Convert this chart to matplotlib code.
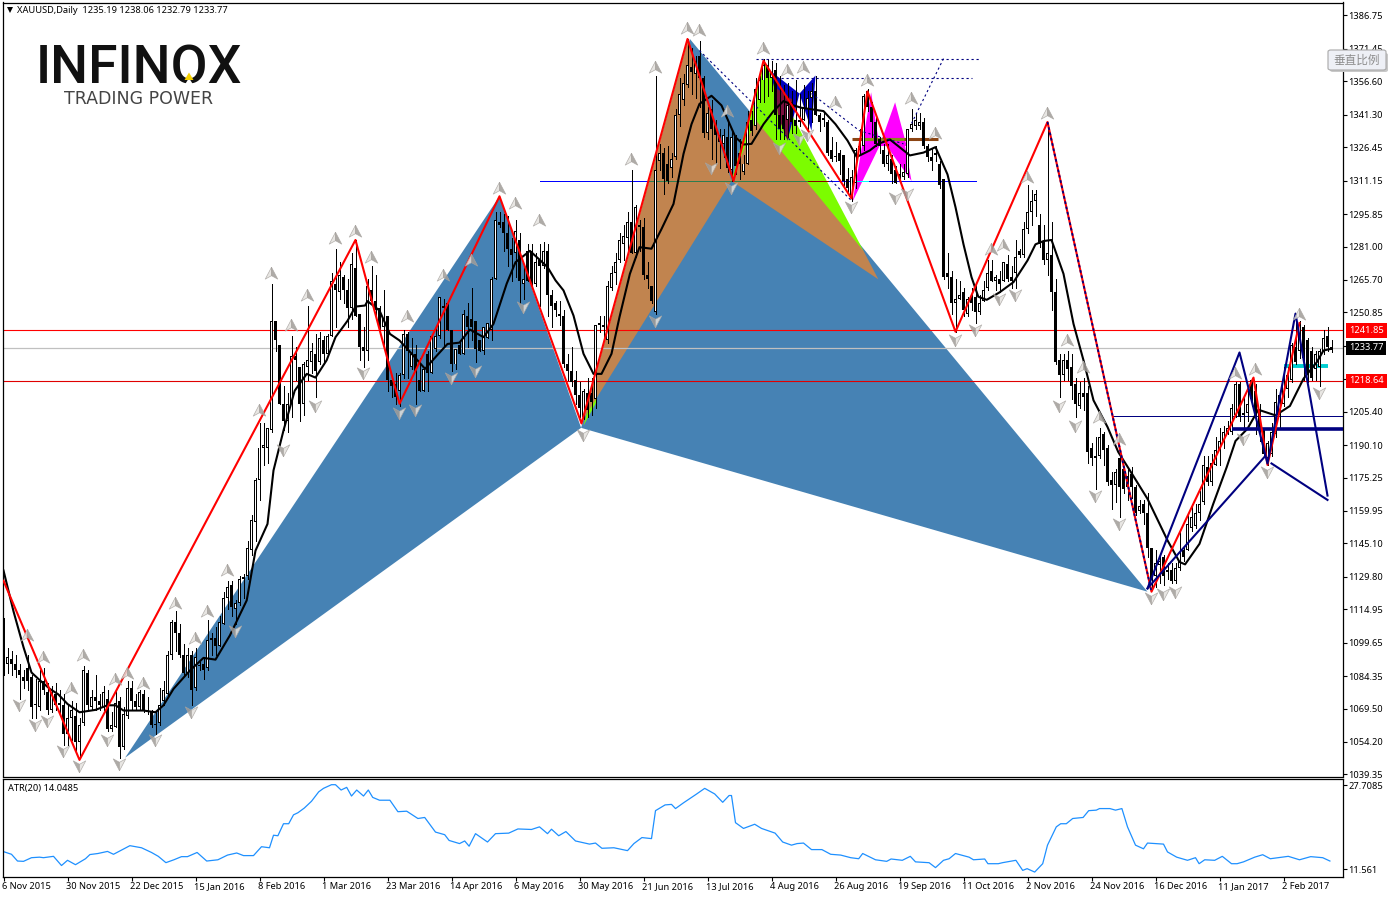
import matplotlib
matplotlib.use('Agg')
import matplotlib.pyplot as plt
from matplotlib.path import Path
from matplotlib.patches import FancyBboxPatch, Polygon
from matplotlib.transforms import ScaledTranslation
import numpy as np

plt.rcParams['font.family'] = ['Noto Sans', 'DejaVu Sans']

# daily candles, oldest first
opens = [
    1104,1090,1092,1090,1087,1084,1088,1084,1071,1070, 1082,1077,1069,1076,1072,1071,1058,1065,1066,1054,
    1063,1086,1070,1075,1073,1070,1074,1060,1061,1073, 1052,1066,1079,1073,1070,1076,1069,1068,1062,1063,
    1073,1076,1094,1109,1104,1094,1086,1094,1079,1089, 1090,1088,1101,1102,1098,1108,1120,1126,1115,1118,
    1129,1130,1142,1155,1174,1189,1189,1197,1247,1236, 1209,1201,1209,1231,1226,1209,1226,1228,1232,1228,
    1238,1232,1240,1264,1260,1267,1261,1253,1271,1250, 1235,1233,1261,1256,1253,1244,1249,1220,1218,1215,
    1222,1241,1226,1232,1220,1215,1232,1223,1234,1240, 1254,1255,1243,1227,1236,1232,1249,1248,1247,1238,
    1233,1239,1243,1266,1292,1292,1287,1280,1278,1284, 1264,1279,1279,1264,1275,1272,1279,1259,1255,1250,
    1249,1227,1224,1220,1213,1203,1214,1214,1211,1245, 1245,1238,1262,1269,1275,1282,1285,1292,1278,1290,
    1290,1268,1263,1251,1320,1324,1319,1317,1322,1341, 1348,1355,1363,1360,1368,1358,1333,1344,1337,1332,
    1328,1331,1316,1331,1324,1315,1319,1339,1336,1348, 1357,1364,1358,1362,1341,1341,1339,1347,1339,1339,
    1339,1344,1349,1352,1341,1340,1338,1325,1322,1324, 1323,1312,1304,1310,1325,1327,1352,1345,1338,1330,
    1325,1319,1321,1316,1314,1313,1314,1335,1336,1336, 1338,1327,1322,1324,1319,1312,1269,1267,1255,1257,
    1260,1250,1258,1258,1251,1256,1262,1270,1265,1266, 1265,1273,1267,1269,1279,1277,1289,1297,1302,1291,
    1283,1275,1277,1260,1229,1222,1229,1226,1218,1208, 1214,1214,1189,1185,1185,1195,1189,1174,1172,1184,
    1179,1176,1177,1171,1160,1163,1159,1143,1130,1135, 1139,1133,1133,1128,1134,1142,1142,1152,1153,1159,
    1164,1180,1173,1181,1188,1192,1195,1196,1204,1218, 1204,1205,1220,1215,1206,1197,1184,1186,1195,1204,
    1209,1216,1220,1235,1233,1244,1238,1233,1225,1226, 1233,1240,1235.19,
]
closes = [
    1088,1093,1090,1087,1085,1082,1082,1070,1071,1082, 1078,1069,1077,1071,1071,1058,1065,1069,1054,1062,
    1087,1071,1075,1073,1071,1077,1060,1062,1072,1052, 1067,1079,1073,1070,1077,1069,1068,1062,1062,1071,
    1078,1094,1109,1104,1094,1086,1094,1078,1093,1089, 1087,1101,1101,1098,1109,1120,1125,1116,1118,1129,
    1129,1143,1156,1174,1189,1190,1198,1247,1238,1209, 1201,1209,1231,1229,1209,1227,1229,1233,1224,1239,
    1232,1240,1265,1261,1268,1261,1253,1273,1249,1235, 1233,1263,1256,1252,1244,1248,1220,1217,1212,1222,
    1241,1233,1232,1224,1215,1225,1223,1240,1240,1258, 1253,1243,1227,1234,1232,1250,1244,1244,1234,1233,
    1244,1246,1266,1293,1291,1287,1280,1277,1288,1265, 1266,1265,1264,1274,1272,1279,1259,1254,1252,1249,
    1227,1224,1219,1213,1207,1215,1206,1210,1245,1246, 1244,1263,1269,1274,1284,1286,1292,1278,1299,1291,
    1268,1266,1256,1316,1324,1312,1311,1321,1341,1351, 1356,1364,1361,1366,1358,1333,1342,1335,1332,1329,
    1332,1317,1331,1318,1319,1319,1338,1334,1353,1357, 1364,1358,1361,1341,1335,1335,1346,1338,1336,1338,
    1345,1349,1352,1341,1338,1339,1324,1321,1322,1320, 1311,1308,1313,1325,1327,1350,1345,1338,1328,1327,
    1319,1323,1314,1310,1313,1315,1335,1337,1339,1338, 1327,1322,1320,1323,1309,1267,1267,1255,1257,1259,
    1252,1257,1255,1251,1255,1261,1269,1265,1267,1264, 1274,1266,1265,1276,1277,1289,1297,1302,1305,1282,
    1275,1278,1260,1228,1222,1229,1225,1217,1209,1214, 1212,1187,1184,1184,1194,1188,1173,1172,1178,1171,
    1170,1171,1171,1159,1162,1159,1143,1129,1136,1137, 1130,1132,1128,1134,1137,1139,1154,1157,1159,1163,
    1181,1173,1182,1188,1192,1196,1198,1207,1218,1203, 1205,1209,1211,1205,1197,1186,1191,1196,1210,1213,
    1220,1222,1236,1228,1245,1230,1222,1221,1232,1233, 1239,1235,1233.77,
]
highs = [
    1111,1097,1096,1094,1090,1087,1094,1085,1083,1087, 1088,1081,1080,1081,1078,1076,1071,1073,1072,1065,
    1089,1087,1078,1085,1076,1080,1078,1068,1078,1075, 1070,1082,1082,1076,1078,1078,1075,1069,1068,1079,
    1082,1096,1110,1114,1108,1099,1097,1096,1097,1091, 1093,1110,1104,1107,1112,1123,1128,1128,1119,1130,
    1131,1146,1158,1175,1200,1200,1198,1264,1247,1236, 1217,1214,1240,1235,1226,1228,1254,1237,1241,1242,
    1240,1241,1269,1280,1274,1268,1266,1278,1284,1250, 1244,1266,1272,1268,1254,1261,1249,1221,1223,1223,
    1243,1242,1239,1236,1230,1226,1233,1241,1244,1258, 1257,1255,1243,1234,1238,1252,1255,1262,1247,1238,
    1244,1246,1267,1297,1297,1296,1295,1285,1293,1287, 1273,1282,1282,1278,1282,1283,1282,1261,1256,1256,
    1252,1232,1235,1224,1219,1216,1221,1221,1245,1249, 1249,1265,1272,1278,1287,1291,1297,1316,1300,1293,
    1294,1274,1263,1359,1328,1326,1327,1324,1344,1358, 1360,1376,1372,1368,1375,1359,1345,1348,1339,1335,
    1335,1339,1334,1332,1330,1323,1343,1343,1358,1359, 1367,1367,1366,1365,1359,1355,1356,1352,1357,1351,
    1355,1352,1356,1359,1342,1342,1339,1331,1329,1325, 1323,1317,1316,1326,1335,1351,1353,1347,1340,1331,
    1328,1328,1323,1318,1319,1319,1335,1344,1342,1342, 1340,1328,1326,1327,1320,1312,1278,1270,1266,1265,
    1262,1258,1262,1264,1259,1265,1275,1275,1268,1270, 1274,1277,1272,1284,1280,1292,1309,1307,1307,1296,
    1291,1337,1292,1266,1232,1232,1233,1232,1221,1219, 1221,1217,1191,1194,1198,1196,1190,1178,1179,1185,
    1180,1180,1180,1172,1165,1165,1168,1143,1142,1140, 1140,1136,1136,1136,1151,1143,1159,1163,1163,1169,
    1185,1185,1186,1194,1198,1199,1201,1209,1219,1219, 1212,1215,1221,1218,1209,1198,1192,1200,1216,1214,
    1226,1226,1237,1250,1247,1245,1239,1235,1233,1234, 1243,1244,1238.06,
]
lows = [
    1085,1086,1085,1084,1074,1079,1078,1065,1065,1069, 1076,1067,1068,1069,1067,1053,1053,1055,1050,1047,
    1062,1069,1069,1069,1069,1069,1059,1059,1061,1047, 1051,1065,1069,1069,1069,1068,1067,1061,1058,1062,
    1071,1075,1092,1096,1093,1085,1084,1071,1078,1087, 1083,1087,1094,1094,1098,1108,1115,1112,1108,1117,
    1120,1129,1140,1146,1165,1181,1182,1196,1233,1209, 1197,1196,1203,1220,1201,1204,1220,1223,1212,1227,
    1227,1231,1240,1244,1257,1255,1244,1248,1249,1229, 1226,1229,1255,1249,1243,1235,1215,1212,1209,1208,
    1221,1221,1225,1209,1215,1215,1215,1223,1233,1239, 1235,1243,1224,1225,1232,1232,1235,1238,1228,1233,
    1232,1239,1238,1266,1290,1279,1272,1265,1267,1255, 1257,1265,1263,1263,1254,1271,1249,1244,1249,1245,
    1226,1220,1217,1209,1203,1202,1203,1204,1207,1242, 1238,1237,1261,1264,1274,1275,1279,1278,1276,1279,
    1266,1262,1255,1250,1316,1305,1310,1313,1321,1336, 1346,1354,1351,1349,1345,1331,1330,1321,1319,1317,
    1322,1315,1311,1314,1312,1314,1319,1332,1335,1347, 1347,1350,1352,1330,1330,1330,1331,1333,1333,1336,
    1339,1334,1338,1341,1334,1336,1323,1320,1320,1314, 1309,1305,1302,1308,1323,1325,1343,1331,1327,1324,
    1318,1316,1310,1310,1311,1312,1313,1334,1335,1335, 1326,1320,1316,1320,1308,1266,1262,1250,1242,1257,
    1249,1249,1252,1246,1250,1256,1261,1265,1261,1260, 1265,1265,1262,1262,1276,1276,1287,1291,1295,1281,
    1273,1268,1252,1227,1212,1220,1220,1211,1203,1207, 1206,1182,1181,1170,1184,1181,1172,1161,1164,1157,
    1168,1165,1166,1158,1159,1154,1139,1125,1125,1127, 1126,1129,1127,1127,1133,1137,1142,1151,1152,1156,
    1163,1172,1172,1181,1181,1189,1195,1195,1203,1201, 1198,1201,1208,1195,1192,1185,1181,1185,1194,1198,
    1208,1212,1219,1227,1230,1220,1219,1220,1220,1217, 1232,1233,1232.79,
]

# black moving average, read at bar positions
ma_bars = [0,2.5,5,7,9,11.6,13.7,16,19,23,26,28,30,35,38,40,42.5,46.6,50,53,56.6,60.8,63,66,67.5,70,72.8,75.8,78,80.8,
           83,86,88,90.4,91,94,96.6,99,101.7,105.4,108.3,111,114,116.6,120,122.5,125.8,128,131.6,134,136,138,140,142.5,145,147.5,149.5,152,154,156.6,
           159,162,164.5,167.5,170,172,174,177,179.5,183,185,187,190,192.5,195,197.5,199.5,205,208,211,213.3,216.6,218.7,221.6,224,226.6,230,233,
           236,238,240,242,243.7,245.8,249,252.5,256,258,260,262,265,267.5,270,272.5,276,278.7,281.6,286,291,294,295.4,299,302.4,305.8,308,311,313.7,318,321.6,325,328.3,330,332]
ma_vals = [1132.7,1114,1097.6,1086,1082.6,1078.5,1076,1071.6,1067.8,1068.9,1071,1071,1068.6,1068.6,1067.8,1071,1078.5,1086.9,1092.7,1091.9,1103,1119,1141.8,1154,1178.5,1196.8,1215,1222.7,1221,1229,
           1239.5,1247,1253.5,1254,1256,1251.7,1241,1238,1232.6,1225,1231,1236.4,1237,1243,1239.5,1245.6,1264,1273.8,1279,1275,1271.6,1265.5,1260.9,1249.4,1231.9,1222.7,1222.7,1231.9,1248.7,1268.5,
           1280.7,1280,1289,1300.5,1323.4,1337,1346.3,1350,1345.6,1331,1327.7,1328,1337,1343,1347.6,1345.6,1344.5,1343,1337,1329.5,1322,1325,1328,1330,1326.5,1322.7,1324,1326.5,
           1314,1299,1282,1267,1258,1256.6,1260,1264.7,1274.6,1282,1283.5,1284,1268.5,1245.6,1228.9,1210.6,1198.4,1186.9,1178.5,1165.5,1146.5,1136.6,1135.5,1144.9,1163,1180,1192,1197.6,1206.3,1203.7,1208,1220.5,1228,1233.4,1234.2]

# red zigzag
zz_bars = [0,19,88,99,124,144.5,171,182.5,190,212,216,238,261,287,312.5,316,324]
zz_vals = [1128,1046,1284,1209,1304,1200,1376,1311,1366,1303,1352,1242,1338,1123,1221,1181,1246]

# fractal arrows
up_bars = [6,10,20,17,28,31,35,43,51,48,56,64,67,72,76,83,88,92,101,110,117,124,128,134,157,163,171,174,181,190,196,200,208,216,227,233,247,250,256,261,266,270,274,279,308,313,324]
up_vals = [1103,1093,1094,1079,1083,1086,1081,1118,1114,1102,1133,1206,1269,1245,1259,1285,1288,1276,1249,1268,1275,1308,1301,1293,1321,1363,1381,1380,1343,1372,1362,1363,1347,1357,1349,1333,1280,1281.5,1313,1342,1238,1226,1203,1193,1223,1225,1250]
down_bars = [4,8,11,15,19,26,29,38,47,58,70,78,90,99,103,112,118,130,145,163,177,182,194,199,201,212,223,226,238,243,249,253,264,268,273,279,287,290,293,310,316,329]
down_vals = [1071,1062,1064,1050,1043,1055,1044,1055,1068,1105,1188,1208,1223,1205,1206,1221,1224,1253.5,1194.5,1247,1317,1308,1326,1330,1332,1299,1303,1305,1238,1243,1257,1259,1208,1199,1167,1154,1120,1122,1123,1193,1178,1214]

# filled harmonic patterns as (bars, prices, colour)
blue_fill = '#4682B4'
brown_fill = '#C1844F'
green_fill = '#7CFC00'
pattern_fills = [
    ([30.4,124,144.4], [1047,1304,1198], blue_fill),
    ([144.4,171.6,286], [1198,1376,1123], blue_fill),
    ([145,161,148], [1199,1307,1209], green_fill),
    ([145,171,182], [1202,1375,1311], brown_fill),
    ([182,190,215], [1311,1366,1279], green_fill),
    ([182,188,215,218.7], [1311,1339,1279,1266], brown_fill),
    ([191.6,199,196], [1361.6,1351,1329.5], '#0000C0'),
    ([199,203,202], [1351,1359.3,1334], '#0000C0'),
    ([193,197.4,196,193.6], [1353.8,1348,1329.5,1341], '#7B0F3D'),
    ([212.3,216.9,219], [1301.7,1351.6,1327], '#FF00FF'),
    ([219,222.9,225.8], [1327,1347,1327], '#FF00FF'),
    ([220.8,225.4,227], [1327,1327,1311], '#FF00FF'),
]

# navy pattern outline
navy_bars = [286,309,316,323,331]
navy_vals = [1124.5,1232.5,1181.7,1250.3,1167]
navy_base_bars = [286,315.4]
navy_base_vals = [1124.5,1185]
navy_tail_bars = [317,331]
navy_tail_vals = [1181.7,1165]

# dashed navy trend lines
dash_lines = [
    ([188,244], [1367,1367]),
    ([193,242], [1358.3,1358.3]),
    ([235,227], [1367,1337.3]),
    ([174,212], [1370.7,1302]),
    ([202,214,225], [1351,1334,1328]),
]

# levels sit a touch above their printed price on the terminal's scale
level_prices = [1241.85, 1233.77, 1218.64]
level_heights = [1242.6, 1234.6, 1219.5]
level_colors = ['#FF0000', '#000000', '#FF0000']

y_ticks = [1386.75,1371.45,1356.60,1341.30,1326.45,1311.15,1295.85,1281.00,1265.70,1250.85,1235.55,1220.25,
           1205.40,1190.10,1175.25,1159.95,1145.10,1129.80,1114.95,1099.65,1084.35,1069.50,1054.20,1039.35]
date_ticks = ['6 Nov 2015','30 Nov 2015','22 Dec 2015','15 Jan 2016','8 Feb 2016','1 Mar 2016','23 Mar 2016',
              '14 Apr 2016','6 May 2016','30 May 2016','21 Jun 2016','13 Jul 2016','4 Aug 2016','26 Aug 2016',
              '19 Sep 2016','11 Oct 2016','2 Nov 2016','24 Nov 2016','16 Dec 2016','11 Jan 2017','2 Feb 2017']

# ATR(20) pane
atr_bars = [0,2,3.5,5,7,9,10,12.5,14.5,16,18,20.5,21.6,23.6,26,27.5,31.6,34.5,37,38.7,40.6,42.6,44.5,46,48.4,50.8,53.6,56,58.3,60,62.5,64.5,66.5,67.5,68.6,70,71.3,72.5,73.6,75.2,77,78.8,80,82,83,84.4,85.8,87,88.3,90,91.2,92.3,94,96.6,98.6,100.8,103.6,105.3,108,110.3,111.4,114,115.3,116.4,118,121,123,126.3,128.6,132,134,136,137,138.8,140.6,143,146.5,148,149.6,152.6,156,157.6,159.6,162,163,165.4,167,168,170,
            173.3,175.3,177.8,179.8,181.4,182,183,185,187.8,189.5,192.9,194.8,197,198.4,200,202,204.6,206.8,209.3,211.8,213.8,214.8,218,220.8,221.9,224.7,226.7,228,231.4,233,235,236.4,238,241.4,242.5,245.3,246.1,248.7,249.8,253.1,254.8,255.9,257.8,259.8,261,263.2,264.3,265.7,267.3,269.9,271.3,273.2,274,276.6,278,279.6,281,283,285,286,290,291,293.3,296,298,298.9,300.3,302.8,304.7,307,308.4,310,312.8,314.8,316.7,321.2,324,326.8,329.8,331.6]
atr_vals = [14.96,14.45,13.16,13.1,13.8,13.9,13.8,14.06,12.3,13.3,12.46,13.6,14.4,14.6,15,14.45,16.1,15.7,14.8,14.06,12.85,13.4,14,14,14.8,13.16,13.4,14.3,14.7,14.2,14.2,15.9,15.7,18.1,18,20.3,20.3,22,22.4,23.3,24.6,26.4,27.07,27.77,27.77,26.75,27.26,25.6,26.75,25.6,26.75,25.34,24.8,24.8,22.6,22.7,21.3,21.5,18.7,18.2,17.1,16.5,17,16,18.4,16.8,18.4,18.5,19.3,19.2,19.7,18.4,19.25,18,18.8,17,16.4,16.6,15.6,15.7,15.15,16.5,17.65,17.45,22.8,23.9,24,23.2,24.3,
            26,27.07,26,24.4,25.7,25.7,20.5,19.4,20.2,19.4,18.5,16.8,16.2,16.5,16.6,15.35,15.35,14.45,14.3,13.8,13.6,14.6,13.4,13.1,13.55,13.3,14.06,13,12.84,11.9,13.3,13.6,14.6,13.9,13.4,13.55,12.65,12.65,12.85,13.3,11.37,11.7,11.05,12.65,16.2,19.7,20.3,20.3,21.3,21.5,22.8,22.9,23.2,23.2,22.9,23.2,19.7,16.2,15.5,16.6,16.4,14.9,13.9,13.3,13.8,12.65,13.4,13.3,14.06,12.65,12.65,13,13.9,14.37,13.6,14.06,13.4,14,13.8,13.16]

W, H = 1388, 897
LABEL_SIZE = 6.7
fig = plt.figure(figsize=(W / 100, H / 100), dpi=100, facecolor='white')
ax = fig.add_axes([2.5 / W, 1 - 776.5 / H, 1340.5 / W, 774 / H])
ax2 = fig.add_axes([2.5 / W, 1 - 876.5 / H, 1340.5 / W, 97.5 / H])

for a in (ax, ax2):
    a.set_xlim(-0.25, 334.875)
    for s in a.spines.values():
        s.set_linewidth(0.9)
ax.set_ylim(1038.4, 1392.7)
ax2.set_ylim(10.2, 28.86)

# pattern fills go under the candles
for xs, ys, col in pattern_fills:
    ax.fill(xs, ys, facecolor=col, edgecolor='none', zorder=1)

bars = np.arange(len(closes))
o, c, h, l = map(np.array, (opens, closes, highs, lows))
ax.vlines(bars, l, h, color='black', lw=0.72, zorder=3, antialiased=False)
up = c >= o
body_low = np.minimum(o, c)
body_size = np.maximum(np.abs(c - o), 0.6)
# 3px black body, white candles get a 1px hollow centre
ax.bar(bars, body_size, bottom=body_low, width=0.75, color='black', linewidth=0, zorder=3.2, antialiased=False)
ax.bar(bars[up], np.maximum(body_size[up] - 0.9, 0), bottom=body_low[up] + 0.45, width=0.25,
       color='white', linewidth=0, zorder=3.3, antialiased=False)

ax.plot(ma_bars, ma_vals, color='black', lw=1.5, zorder=4)

# horizontal levels
ax.axhline(level_heights[0], color='#FF0000', lw=0.8, zorder=2.5)
ax.axhline(level_heights[2], color='#E00000', lw=0.8, zorder=2.5)
ax.axhline(level_heights[1], color='#C0C0C0', lw=0.9, zorder=2.5)
ax.hlines(1311.2, 134, 243, color='#0000FF', lw=0.7, zorder=2.5, antialiased=False)
ax.hlines(1311.2, 161, 201, color='#2E7D4F', lw=0.7, zorder=2.6, antialiased=False)
ax.hlines(1311.2, 201, 206, color='#8B0000', lw=0.7, zorder=2.6, antialiased=False)
ax.hlines(1311.2, 213, 216, color='#00FFFF', lw=0.7, zorder=2.6, antialiased=False)
ax.hlines(1203.2, 277, 334.875, color='#000080', lw=0.7, zorder=2.5, antialiased=False)
ax.hlines(1197.3, 307, 334.875, color='#000080', lw=2.6, zorder=4.5)
ax.hlines(1226.5, 320, 331, color='#00CED1', lw=2.8, zorder=2.8)
ax.hlines(1330, 212, 233.6, color='#8B4513', lw=2.2, zorder=2.8)
ax.hlines(1330, 215, 225, color='#8B8B1F', lw=2.2, zorder=2.9)

for xs, ys in dash_lines:
    ax.plot(xs, ys, color='#000080', lw=0.8, dashes=(2, 2.5), zorder=4)

ax.plot(zz_bars, zz_vals, color='#FF0000', lw=1.5, zorder=5)
ax.plot(zz_bars[12:14], zz_vals[12:14], color='#000080', lw=1.3, dashes=(1.5, 1.5), zorder=5.1)

ax.plot(navy_bars, navy_vals, color='#000080', lw=1.5, zorder=5.2)
ax.plot(navy_base_bars, navy_base_vals, color='#000080', lw=1.5, zorder=5.2)
ax.plot(navy_tail_bars, navy_tail_vals, color='#000080', lw=1.5, zorder=5.2)

# fractal arrows, two tone like the terminal draws them
up_left = Path([(0, 1), (0, -0.35), (-1, -0.9), (0, 1)])
up_right = Path([(0, 1), (1, -0.9), (0, -0.35), (0, 1)])
down_left = Path([(0, -1), (-1, 0.9), (0, 0.35), (0, -1)])
down_right = Path([(0, -1), (0, 0.35), (1, 0.9), (0, -1)])
up_offset = [b - 0.25 for b in up_bars]
down_offset = [b - 0.25 for b in down_bars]
for mk, col in ((up_left, '#E4E2DE'), (up_right, '#A09C98')):
    ax.plot(up_offset, up_vals, ls='none', marker=mk, ms=9, mfc=col, mec='#A8A4A0', mew=0.5, alpha=0.85, zorder=6)
for mk, col in ((down_left, '#A09C98'), (down_right, '#E4E2DE')):
    ax.plot(down_offset, down_vals, ls='none', marker=mk, ms=9, mfc=col, mec='#A8A4A0', mew=0.5, alpha=0.85, zorder=6)

ax.yaxis.tick_right()
ax.set_yticks(y_ticks)
ax.set_yticklabels(['%.2f' % t for t in y_ticks], fontsize=LABEL_SIZE)
ax.tick_params(axis='y', length=3, width=0.8, pad=0.8)
ax.set_xticks([])

# current price tags on the scale
tag_trans = ax.get_yaxis_transform()
for price, height, col in zip(level_prices, level_heights, level_colors):
    ax.text(1.0046, height, '%.2f' % price, transform=tag_trans, color='white', fontsize=LABEL_SIZE, va='center', ha='left',
            bbox=dict(boxstyle='square,pad=0.3', fc=col, ec='none'), zorder=10, clip_on=False)

ax.text(0.0105, 0.9897, 'XAUUSD,Daily  1235.19 1238.06 1232.79 1233.77', transform=ax.transAxes,
        fontsize=LABEL_SIZE, va='center', ha='left', color='black')
ax.plot([0.0053], [0.9897], transform=ax.transAxes, marker='v', ms=5, color='black', mew=0)

# broker logo
fig.text(36 / W, 1 - 83.5 / H, 'INFINOX', fontsize=38.5, family='Roboto', fontweight='medium', color='#111111', va='baseline', ha='left')
fig.text(139 / W, 1 - 99 / H, 'TRADING POWER', fontsize=12.5, family='DejaVu Sans', color='#444444', va='center', ha='center')
fig.add_artist(Polygon([(184 / W, 1 - 86 / H), (194 / W, 1 - 86 / H), (189 / W, 1 - 78 / H)],
                       closed=True, transform=fig.transFigure, fc='white', ec='none', zorder=5))
fig.add_artist(Polygon([(184.5 / W, 1 - 80 / H), (193.5 / W, 1 - 80 / H), (189 / W, 1 - 72.5 / H)],
                       closed=True, transform=fig.transFigure, fc='#F5D000', ec='none', zorder=6))

# ATR pane
ax2.plot(atr_bars, atr_vals, color='#1E90FF', lw=0.9)
ax2.yaxis.tick_right()
ax2.set_yticks([27.7085, 11.561])
ax2.set_yticklabels(['27.7085', '11.561'], fontsize=LABEL_SIZE)
ax2.tick_params(axis='y', length=3, width=0.8, pad=0.8)
date_pos = np.arange(len(date_ticks)) * 16
ax2.set_xticks(date_pos)
ax2.set_xticklabels(date_ticks, fontsize=LABEL_SIZE, ha='left')
ax2.tick_params(axis='x', length=3, width=0.8, pad=0.8)
nudge = ScaledTranslation(-2 / 100, 0, fig.dpi_scale_trans)
for lab in ax2.get_xticklabels():
    lab.set_transform(lab.get_transform() + nudge)
ax2.text(0.004, 0.9, 'ATR(20) 14.0485', transform=ax2.transAxes, fontsize=LABEL_SIZE, va='center', ha='left')

# hover hint from the terminal
shadow = FancyBboxPatch((1330 / W, 1 - 72 / H), 58 / W, 19 / H, boxstyle='round,pad=0,rounding_size=0.002',
                        transform=fig.transFigure, fc='#C8C8C8', ec='none', zorder=20)
hint = FancyBboxPatch((1328 / W, 1 - 70 / H), 58 / W, 20 / H, boxstyle='round,pad=0,rounding_size=0.002',
                      transform=fig.transFigure, fc='#EEF0F6', ec='#A8A8A8', lw=0.8, zorder=21)
fig.patches.extend([shadow, hint])
fig.text(1357 / W, 1 - 60 / H, '垂直比例', fontsize=8.4, family='Noto Sans CJK SC', color='#8C8C8C',
         va='center', ha='center', zorder=22)

fig.savefig('out.png', dpi=100)
